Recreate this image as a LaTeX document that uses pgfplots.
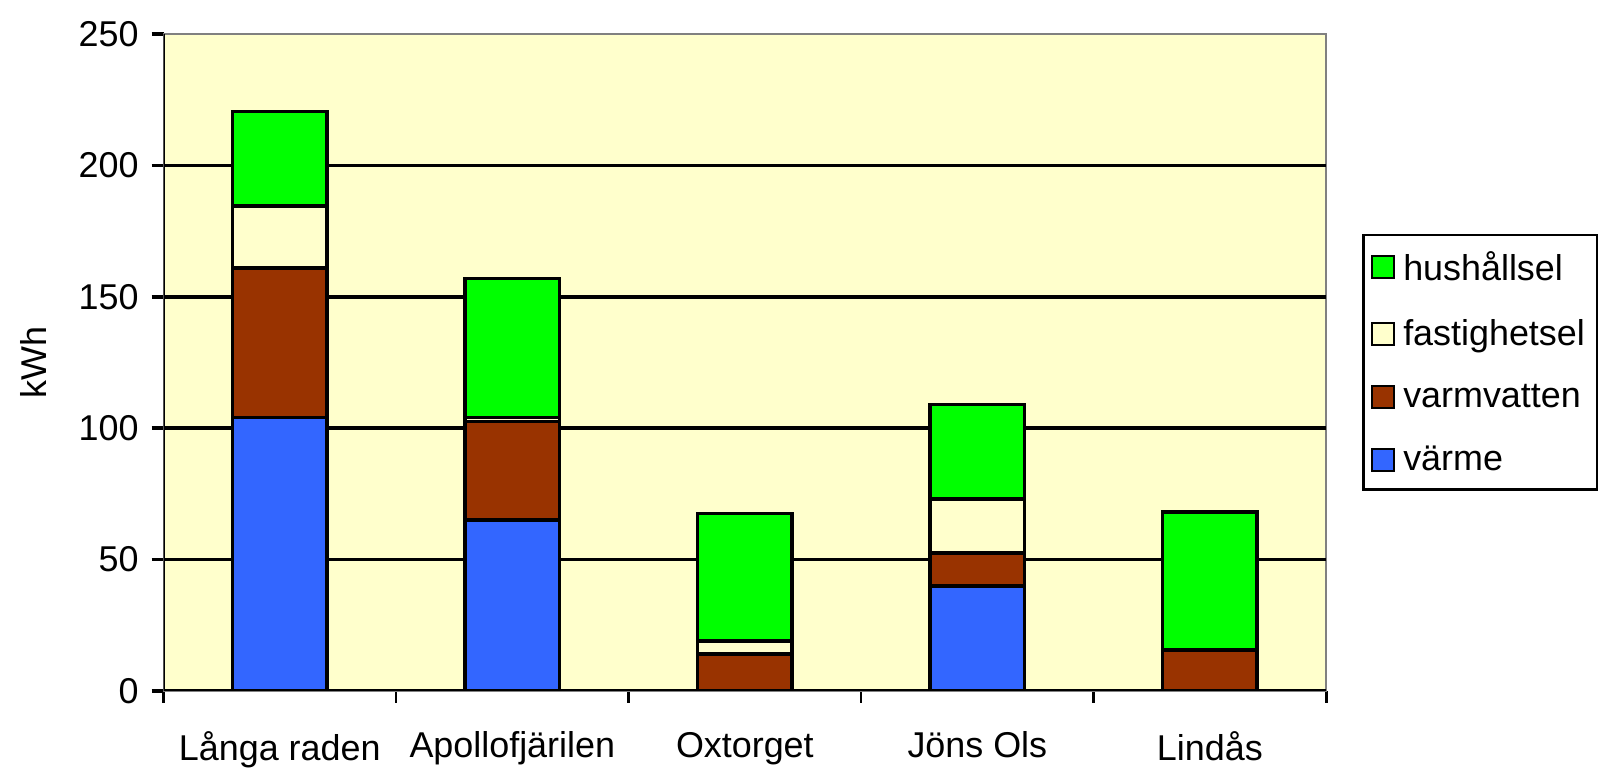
\documentclass[border=0pt]{standalone}
\usepackage{fontspec}
\setmainfont{Liberation Sans}
\usepackage{pgfplots}
\pgfplotsset{compat=1.18}
\definecolor{bgyellow}{HTML}{FFFFCC}
\definecolor{cvarme}{HTML}{3366FF}
\definecolor{cvarmv}{HTML}{993300}
\definecolor{cfast}{HTML}{FFFFCC}
\definecolor{chush}{HTML}{00FF00}
\begin{document}
\begin{tikzpicture}
\begin{axis}[
  scale only axis,
  width=583pt, height=329.5pt,
  at={(0,0)}, anchor=south west,
  ybar stacked, bar width=47.4pt,
  xmin=-0.5, xmax=4.5,
  ymin=0, ymax=250,
  axis background/.style={fill=bgyellow},
  axis line style={draw=gray, line width=0.8pt},
  xtick={0,1,2,3,4},
  xticklabels={Långa raden, Apollofjärilen, Oxtorget, Jöns Ols, Lindås},
  major x tick style={draw=none},
  minor xtick={-0.5,0.5,1.5,2.5,3.5,4.5},
  minor x tick style={draw=black, line width=1.4pt},
  minor tick length=6pt,
  ytick={0,50,...,250},
  major y tick style={draw=black, line width=1.8pt},
  major tick length=6pt,
  tick align=outside,
  tick pos=left,
  extra y ticks={50,100,150,200},
  extra y tick labels={},
  extra y tick style={grid=major, major grid style={draw=black, line width=1.8pt}, major tick length=0pt},
  /pgf/number format/assume math mode=true,
  tick label style={font=\fontsize{18}{21.6}\selectfont},
  xticklabel style={yshift=-11pt},
  yticklabel style={xshift=-3pt},
  ylabel={kWh},
  every axis y label/.style={at={(rel axis cs:0,0.5)}, xshift=-65pt, rotate=90, anchor=center, font=\fontsize{18}{21.6}\selectfont},
  legend style={at={(1.031,0.5)}, anchor=west, draw=black, line width=1.2pt, fill=white,
    font=\fontsize{18}{21.6}\selectfont, row sep=14pt, inner xsep=4pt, inner ysep=6pt,
    legend cell align=left,
    /tikz/every odd column/.append style={column sep=2pt}},
  reverse legend,
  legend image code/.code={\draw[#1, draw=black, line width=1pt] (0pt,-5.5pt) rectangle (11pt,5.5pt);},
  every axis plot/.append style={draw=black, line width=1.8pt},
]
\addplot[fill=cvarme] coordinates {(0,104) (1,65) (2,0) (3,40) (4,0)};
\addplot[fill=cvarmv] coordinates {(0,57) (1,37.5) (2,14) (3,12.5) (4,15.5)};
\addplot[fill=cfast] coordinates {(0,23.5) (1,1.5) (2,5) (3,20.5) (4,0)};
\addplot[fill=chush] coordinates {(0,36) (1,53) (2,48.5) (3,36) (4,52.5)};
\legend{värme, varmvatten, fastighetsel, hushållsel}
\draw[black, line width=1.8pt] (rel axis cs:0,1) -- (rel axis cs:0,0) -- (rel axis cs:1,0);
\end{axis}
\useasboundingbox (-82pt,-40.5pt) rectangle (717pt,346.5pt);
\end{tikzpicture}
\end{document}
